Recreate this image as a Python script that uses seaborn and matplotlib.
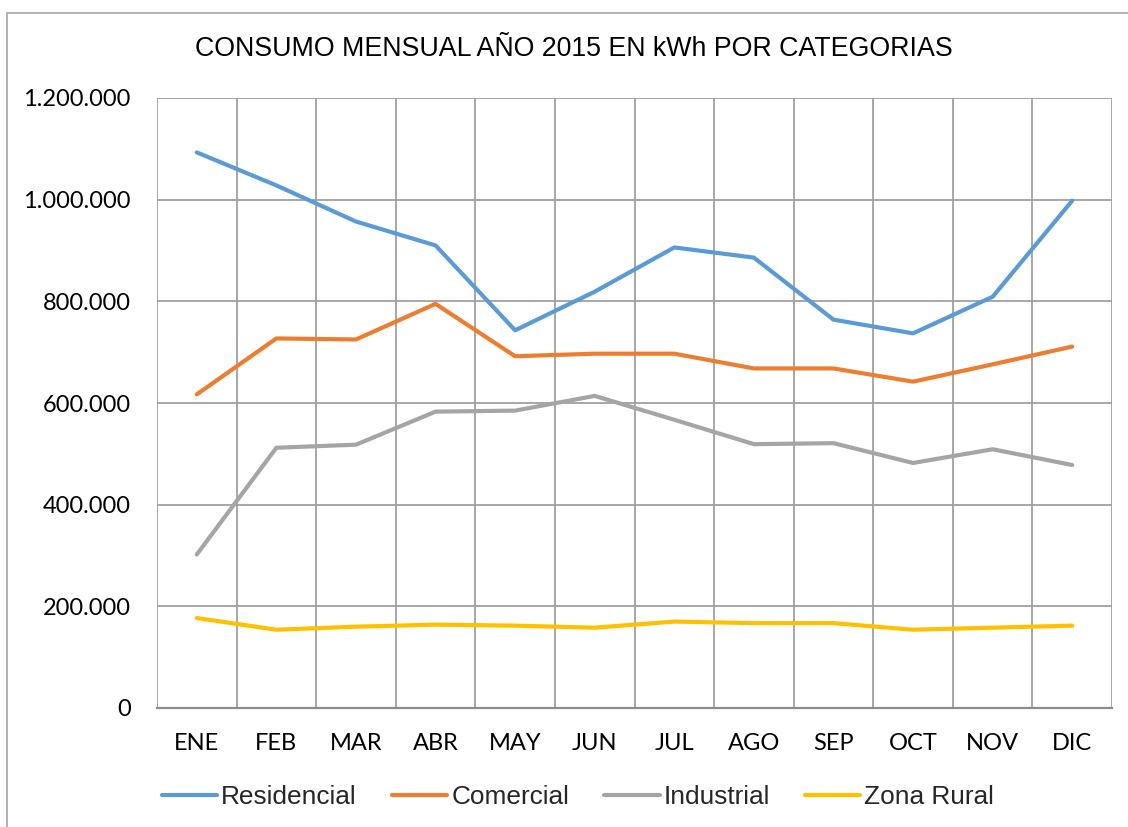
import matplotlib
matplotlib.use("Agg")
import matplotlib.pyplot as plt
import matplotlib.ticker as mticker
from matplotlib.patches import Rectangle
import seaborn as sns
import pandas as pd

months = ["ENE", "FEB", "MAR", "ABR", "MAY", "JUN", "JUL", "AGO", "SEP", "OCT", "NOV", "DIC"]
residencial = [1093000, 1028000, 957000, 910000, 743000, 819000, 906000, 886000, 764000, 737000, 809000, 998000]
comercial = [617000, 727000, 725000, 795000, 692000, 697000, 697000, 668000, 668000, 642000, 676000, 711000]
industrial = [302000, 512000, 518000, 583000, 585000, 614000, 567000, 519000, 521000, 482000, 509000, 478000]
zona_rural = [177000, 154000, 160000, 164000, 162000, 158000, 170000, 167000, 167000, 154000, 158000, 162000]

series_names = ["Residencial", "Comercial", "Industrial", "Zona Rural"]
series_vals = [residencial, comercial, industrial, zona_rural]
colors = ["#5B9BD5", "#ED7D31", "#A5A5A5", "#FFC000"]

rows = []
for name, vals in zip(series_names, series_vals):
    for i, v in enumerate(vals):
        rows.append({"idx": i, "mes": months[i], "valor": v, "serie": name})
df = pd.DataFrame(rows)

sns.set_theme(style="white")
plt.rcParams["font.family"] = ["Liberation Sans", "DejaVu Sans"]

fig = plt.figure(figsize=(11.28, 8.27), dpi=100)
ax = fig.add_axes([157/1128, 1-708/827, (1112-157)/1128, (708-98)/827])

sns.lineplot(data=df, x="idx", y="valor", hue="serie", hue_order=series_names,
             palette=colors, linewidth=3, ax=ax, sort=False, legend=True)

ax.set_xlim(-0.5, 11.5)
ax.set_ylim(0, 1200000)
ax.set_xticks(range(12))
ax.set_xticklabels(months)
ax.set_xticks([i + 0.5 for i in range(-1, 12)], minor=True)
ax.set_yticks(range(0, 1200001, 200000))
ax.yaxis.set_major_formatter(mticker.FuncFormatter(lambda v, p: f"{int(v):,}".replace(",", ".")))
ax.grid(False)
ax.grid(True, axis="x", which="minor", color="#A0A0A0", linewidth=1.3)
ax.grid(True, axis="y", which="major", color="#A0A0A0", linewidth=1.3)
ax.set_axisbelow(True)
for s in ["top", "right", "left"]:
    ax.spines[s].set_visible(False)
ax.spines["bottom"].set_color("#8C8C8C")
ax.spines["bottom"].set_linewidth(1.6)
ax.tick_params(axis="both", which="both", length=0)
ax.tick_params(axis="y", pad=19)
ax.tick_params(axis="x", pad=18)
for lab in ax.get_xticklabels() + ax.get_yticklabels():
    lab.set_fontfamily(["Lato", "DejaVu Sans"])
    lab.set_fontsize(17)
    lab.set_color("#000000")
ax.set_xlabel("")
ax.set_ylabel("")

fig.text(0.5085, 1-49/827, "CONSUMO MENSUAL AÑO 2015 EN kWh POR CATEGORIAS",
         ha="center", va="center", fontsize=19.3, color="#000000")

h, l = ax.get_legend_handles_labels()
ax.get_legend().remove()
leg = fig.legend(h, l, loc="center", bbox_to_anchor=(0.5125, 1-797/827), ncol=4,
                 frameon=False, fontsize=18.9, handlelength=2.1, handletextpad=0.15,
                 columnspacing=1.35)
for line in leg.get_lines():
    line.set_linewidth(3)

fig.patches.append(Rectangle((7/1128, -0.05), 1.2, 1-13/827+0.05, transform=fig.transFigure,
                             fill=False, edgecolor="#A6A6A6", linewidth=1.2))

fig.savefig("out.png", dpi=100, facecolor="white")
